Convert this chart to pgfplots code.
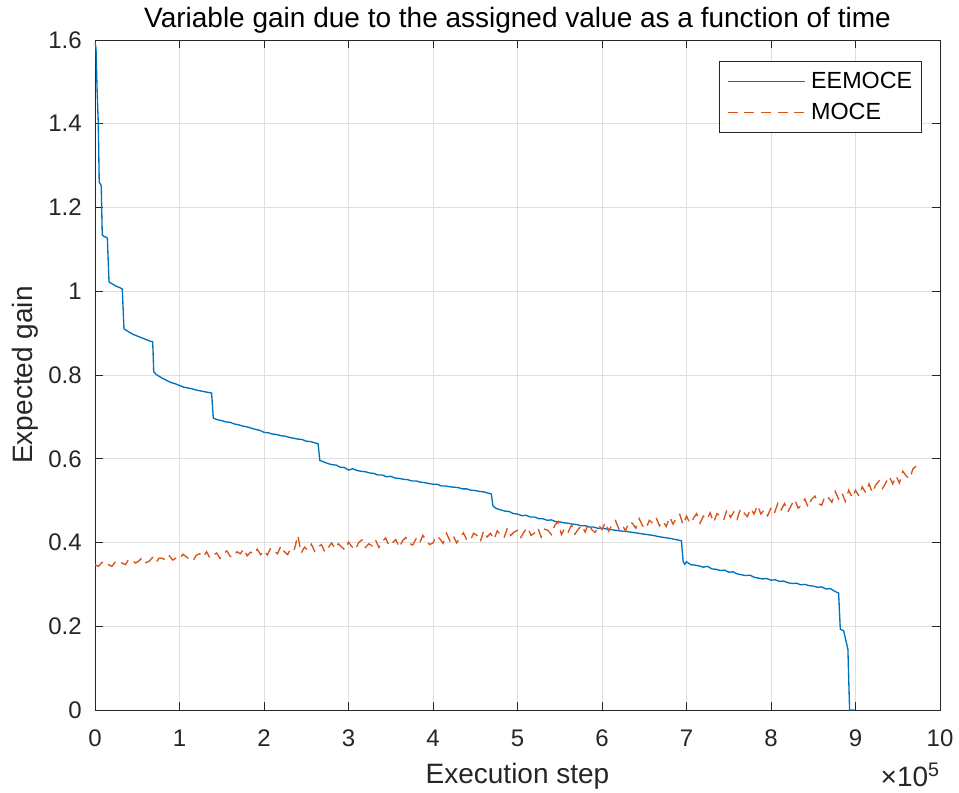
\documentclass[border=0pt]{standalone}
\usepackage{pgfplots}
\pgfplotsset{compat=1.18}
\usepackage{fontspec}
\setmainfont{Liberation Sans}
\definecolor{mblue}{rgb}{0,0.447,0.741}
\definecolor{morange}{rgb}{0.85,0.325,0.098}
\definecolor{mgray}{rgb}{0.15,0.15,0.15}
\definecolor{mgrid}{rgb}{0.875,0.875,0.875}
\begin{document}
\begin{tikzpicture}
\useasboundingbox (-71.25pt,-61.5pt) rectangle (648pt,532.5pt);
\begin{axis}[
  scale only axis,
  clip mode=individual,
  width=633.75pt, height=502.5pt,
  xmin=0, xmax=10, ymin=0, ymax=1.6,
  xtick={0,1,...,10},
  ytick={0,0.2,0.4,0.6,0.8,1,1.2,1.4,1.6},
  yticklabels={0,0.2,0.4,0.6,0.8,1,1.2,1.4,1.6},
  xtick pos=both, ytick pos=both,
  tick align=inside,
  major tick length=6.3pt,
  /pgf/number format/assume math mode=true,
  axis line style={mgray, line width=0.6pt},
  every tick/.style={mgray, line width=0.6pt},
  grid=major,
  major grid style={mgrid, line width=0.6pt},
  tick label style={font=\fontsize{18}{20}\selectfont, text=mgray},
  xticklabel style={anchor=base, yshift=-27pt, inner sep=0pt},
  yticklabel style={anchor=east, inner sep=0pt, xshift=-9.75pt},
  xlabel={Execution step},
  ylabel={Expected gain},
  label style={font=\fontsize{21}{24}\selectfont, text=mgray},
  xlabel style={at={(axis description cs:0.5,-0.1095)}, anchor=base},
  ylabel style={at={(axis description cs:-0.0734,0.5)}, anchor=base},
  every axis title shift=0pt,
  title={Variable gain due to the assigned value as a function of time},
  title style={at={(axis description cs:0.5,1.0179)}, anchor=base, inner sep=0pt, font=\fontsize{21}{24}\selectfont},
  legend style={at={(rel axis cs:1,1)}, anchor=north east, xshift=-13.5pt, yshift=-15.75pt,
    draw=mgray, line width=0.6pt, fill=white, font=\fontsize{17.5}{20}\selectfont,
    inner xsep=6pt, inner ysep=7pt, row sep=8pt, column sep=3pt,
    nodes={inner sep=1pt}},
  legend cell align=left,
  legend image code/.code={\draw[#1] (0pt,0pt) -- (58pt,0pt);},
]
\addplot[mblue, line width=1pt] coordinates {
(0,1.595) (0.012,1.58) (0.025,1.48) (0.039,1.40) (0.05,1.26) (0.07,1.254) (0.074,1.25)
(0.086,1.134) (0.10,1.132) (0.146,1.127) (0.166,1.022) (0.20,1.018) (0.25,1.012) (0.30,1.008)
(0.323,1.005) (0.343,0.910) (0.40,0.903) (0.45,0.897) (0.50,0.893) (0.55,0.889) (0.60,0.885)
(0.65,0.881) (0.683,0.879) (0.695,0.808) (0.72,0.802) (0.75,0.798) (0.80,0.792) (0.85,0.787)
(0.90,0.782) (0.95,0.779) (1.00,0.775) (1.05,0.771) (1.10,0.769) (1.15,0.767) (1.20,0.764)
(1.25,0.762) (1.30,0.760) (1.35,0.758) (1.38,0.757) (1.40,0.697) (1.45,0.693) (1.50,0.691)
(1.55,0.688) (1.60,0.687) (1.65,0.683) (1.70,0.681) (1.75,0.678) (1.80,0.676) (1.85,0.673)
(1.90,0.670) (1.95,0.668) (2.00,0.663) (2.05,0.662) (2.10,0.659) (2.15,0.658) (2.20,0.655)
(2.25,0.654) (2.30,0.651) (2.35,0.649) (2.40,0.647) (2.45,0.646) (2.50,0.642) (2.55,0.641)
(2.60,0.638) (2.64,0.636) (2.66,0.596) (2.70,0.593) (2.75,0.589) (2.80,0.586) (2.85,0.585)
(2.90,0.580) (2.95,0.579) (3.00,0.573) (3.05,0.576) (3.10,0.572) (3.15,0.570) (3.20,0.569)
(3.25,0.566) (3.30,0.565) (3.35,0.561) (3.40,0.561) (3.45,0.557) (3.50,0.558) (3.55,0.554)
(3.60,0.553) (3.65,0.551) (3.70,0.550) (3.75,0.547) (3.80,0.547) (3.85,0.544) (3.90,0.543)
(3.95,0.541) (4.00,0.539) (4.05,0.539) (4.10,0.535) (4.15,0.535) (4.20,0.533) (4.25,0.532)
(4.30,0.531) (4.35,0.528) (4.40,0.528) (4.45,0.525) (4.50,0.524) (4.55,0.522) (4.60,0.521)
(4.65,0.518) (4.69,0.516) (4.71,0.487) (4.75,0.481) (4.80,0.478) (4.85,0.475) (4.90,0.474)
(4.95,0.469) (5.00,0.468) (5.05,0.464) (5.10,0.465) (5.15,0.461) (5.20,0.461) (5.25,0.457)
(5.30,0.457) (5.35,0.453) (5.40,0.454) (5.45,0.450) (5.50,0.449) (5.55,0.447) (5.60,0.446)
(5.65,0.444) (5.70,0.443) (5.75,0.440) (5.80,0.440) (5.85,0.437) (5.90,0.437) (5.95,0.434)
(6.00,0.434) (6.10,0.431) (6.20,0.428) (6.30,0.426) (6.40,0.423) (6.50,0.420) (6.60,0.417)
(6.70,0.413) (6.80,0.410) (6.90,0.406) (6.94,0.404) (6.96,0.355) (6.98,0.348) (7.00,0.354)
(7.05,0.347) (7.10,0.346) (7.15,0.344) (7.20,0.341) (7.25,0.343) (7.30,0.337) (7.35,0.336)
(7.40,0.333) (7.45,0.334) (7.50,0.329) (7.55,0.330) (7.60,0.325) (7.65,0.323) (7.70,0.321)
(7.75,0.322) (7.80,0.317) (7.85,0.315) (7.90,0.313) (7.95,0.314) (8.00,0.310) (8.05,0.311)
(8.10,0.307) (8.15,0.308) (8.20,0.304) (8.25,0.302) (8.30,0.303) (8.35,0.299) (8.40,0.300)
(8.45,0.297) (8.50,0.296) (8.55,0.293) (8.60,0.294) (8.65,0.289) (8.70,0.290) (8.75,0.284)
(8.80,0.279) (8.82,0.193) (8.86,0.189) (8.91,0.145) (8.93,0.000) (8.99,0.000)
};
\addlegendentry{EEMOCE}
\addplot[morange, line width=1pt, dash pattern=on 7.5pt off 5pt] coordinates {
(0.00,0.347) (0.04,0.343) (0.08,0.352) (0.12,0.355) (0.16,0.347) (0.20,0.343) (0.24,0.353)
(0.28,0.357) (0.32,0.351) (0.36,0.347) (0.40,0.360) (0.44,0.357) (0.48,0.351) (0.52,0.356)
(0.56,0.364) (0.60,0.352) (0.64,0.355) (0.68,0.364) (0.72,0.352) (0.76,0.363) (0.80,0.362)
(0.84,0.357) (0.88,0.368) (0.92,0.358) (0.96,0.363)
(1.00,0.360) (1.04,0.372) (1.08,0.366) (1.12,0.359) (1.16,0.356) (1.20,0.370) (1.24,0.373)
(1.28,0.365) (1.32,0.378) (1.36,0.363) (1.40,0.370) (1.44,0.375) (1.48,0.362) (1.52,0.373)
(1.56,0.380) (1.60,0.367) (1.64,0.365) (1.68,0.378) (1.72,0.373) (1.76,0.385) (1.80,0.368)
(1.84,0.377) (1.88,0.372) (1.92,0.384) (1.96,0.371)
(2.00,0.381) (2.04,0.370) (2.08,0.387) (2.12,0.380) (2.16,0.373) (2.20,0.392) (2.24,0.378)
(2.28,0.371) (2.32,0.388) (2.36,0.384) (2.40,0.417) (2.44,0.375) (2.48,0.389) (2.52,0.381)
(2.56,0.396) (2.60,0.379) (2.64,0.390) (2.68,0.395) (2.72,0.377) (2.76,0.388) (2.80,0.399)
(2.84,0.385) (2.88,0.397) (2.92,0.389) (2.96,0.382)
(3.00,0.401) (3.04,0.390) (3.08,0.382) (3.12,0.400) (3.16,0.406) (3.20,0.388) (3.24,0.397)
(3.28,0.392) (3.32,0.406) (3.36,0.388) (3.40,0.402) (3.44,0.411) (3.48,0.392) (3.52,0.399)
(3.56,0.407) (3.60,0.388) (3.64,0.404) (3.68,0.412) (3.72,0.398) (3.76,0.394) (3.80,0.409)
(3.84,0.398) (3.88,0.417) (3.92,0.405) (3.96,0.395)
(4.00,0.399) (4.04,0.416) (4.08,0.409) (4.12,0.398) (4.16,0.422) (4.20,0.404) (4.24,0.416)
(4.28,0.399) (4.32,0.412) (4.36,0.423) (4.40,0.406) (4.44,0.404) (4.48,0.422) (4.52,0.417)
(4.56,0.402) (4.60,0.428) (4.64,0.413) (4.68,0.422) (4.72,0.407) (4.76,0.428) (4.80,0.418)
(4.84,0.411) (4.88,0.434) (4.92,0.417) (4.96,0.425)
(5.00,0.429) (5.04,0.412) (5.08,0.426) (5.12,0.436) (5.16,0.417) (5.20,0.422) (5.24,0.435)
(5.28,0.413) (5.32,0.432) (5.36,0.429) (5.40,0.419) (5.44,0.441) (5.48,0.450) (5.52,0.419)
(5.56,0.434) (5.60,0.425) (5.64,0.442) (5.68,0.420) (5.72,0.432) (5.76,0.441) (5.80,0.425)
(5.84,0.446) (5.88,0.430) (5.92,0.424) (5.96,0.441)
(6.00,0.431) (6.04,0.448) (6.08,0.427) (6.12,0.443) (6.16,0.452) (6.20,0.432) (6.24,0.441)
(6.28,0.428) (6.32,0.450) (6.36,0.446) (6.40,0.434) (6.44,0.457) (6.48,0.440) (6.52,0.433)
(6.56,0.453) (6.60,0.446) (6.64,0.459) (6.68,0.440) (6.72,0.451) (6.76,0.438) (6.80,0.461)
(6.84,0.444) (6.88,0.458) (6.92,0.467) (6.96,0.442)
(7.00,0.463) (7.04,0.446) (7.08,0.457) (7.12,0.469) (7.16,0.446) (7.20,0.463) (7.24,0.455)
(7.28,0.471) (7.32,0.448) (7.36,0.469) (7.40,0.463) (7.44,0.454) (7.48,0.479) (7.52,0.460)
(7.56,0.473) (7.60,0.456) (7.64,0.481) (7.68,0.471) (7.72,0.462) (7.76,0.481) (7.80,0.468)
(7.84,0.489) (7.88,0.468) (7.92,0.478) (7.96,0.464)
(8.00,0.483) (8.04,0.470) (8.08,0.493) (8.12,0.478) (8.16,0.493) (8.20,0.473) (8.24,0.489)
(8.28,0.503) (8.32,0.482) (8.36,0.489) (8.40,0.504) (8.44,0.484) (8.48,0.503) (8.52,0.511)
(8.56,0.493) (8.60,0.489) (8.64,0.512) (8.68,0.507) (8.72,0.496) (8.76,0.522) (8.80,0.504)
(8.84,0.518) (8.88,0.498) (8.92,0.525) (8.96,0.507)
(9.00,0.525) (9.04,0.511) (9.08,0.533) (9.12,0.519) (9.16,0.540) (9.20,0.519) (9.24,0.538)
(9.28,0.547) (9.32,0.529) (9.36,0.543) (9.40,0.558) (9.44,0.540) (9.48,0.559) (9.52,0.542)
(9.56,0.570) (9.60,0.559) (9.64,0.552) (9.68,0.576) (9.72,0.583)
};
\addlegendentry{MOCE}
\node[anchor=base east, inner sep=0pt, font=\fontsize{21}{24}\selectfont, text=mgray]
  at (axis description cs:1,-0.1149) {×10\textsuperscript{5}};
\end{axis}
\end{tikzpicture}
\end{document}
